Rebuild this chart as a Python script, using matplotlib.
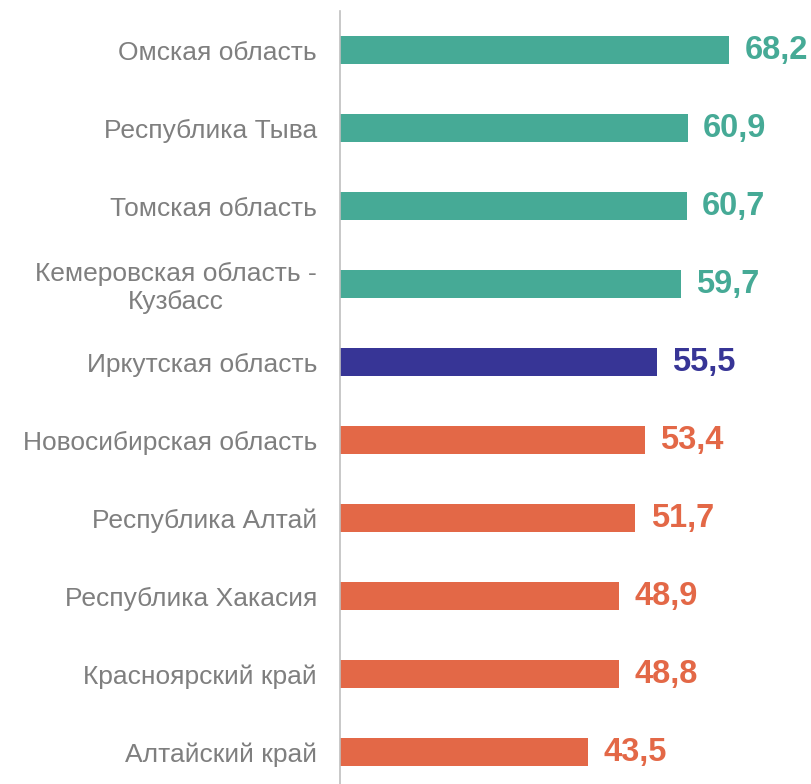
import matplotlib.pyplot as plt

plt.rcParams['font.family'] = ['Liberation Sans', 'DejaVu Sans']

regions = ['Омская область', 'Республика Тыва', 'Томская область',
           'Кемеровская область -\nКузбасс', 'Иркутская область',
           'Новосибирская область', 'Республика Алтай', 'Республика Хакасия',
           'Красноярский край', 'Алтайский край']
values = [68.2, 60.9, 60.7, 59.7, 55.5, 53.4, 51.7, 48.9, 48.8, 43.5]
groups = ['hi', 'hi', 'hi', 'hi', 'own', 'lo', 'lo', 'lo', 'lo', 'lo']

palette = {'hi': '#46AA96', 'own': '#373596', 'lo': '#E36847'}
colors = [palette[g] for g in groups]

fig = plt.figure(figsize=(8.12, 7.84), dpi=100)
ax = fig.add_axes([340 / 812, 0, 472 / 812, 773 / 784])

ypos = range(len(values))
ax.barh(ypos, values, height=0.36, color=colors)

for y, v, c in zip(ypos, values, colors):
    ax.text(v + 2.7, y, ('%.1f' % v).replace('.', ','), color=c,
            fontsize=23.5, fontweight='bold', va='center', ha='left')

ax.set_yticks(list(ypos))
ax.set_yticklabels(regions, fontsize=19, color='#7F7F7F',
                   multialignment='center')
ax.tick_params(axis='y', length=0, pad=16.5)
ax.tick_params(axis='x', bottom=False, labelbottom=False)

ax.set_xlim(0, 472 / 5.71)
ax.set_ylim(-0.5 + 773 / 78, -0.5)

for s in ['top', 'right', 'bottom']:
    ax.spines[s].set_visible(False)
ax.spines['left'].set_color('#BFBFBF')
ax.spines['left'].set_linewidth(1.2)

fig.savefig('out.png', dpi=100)
